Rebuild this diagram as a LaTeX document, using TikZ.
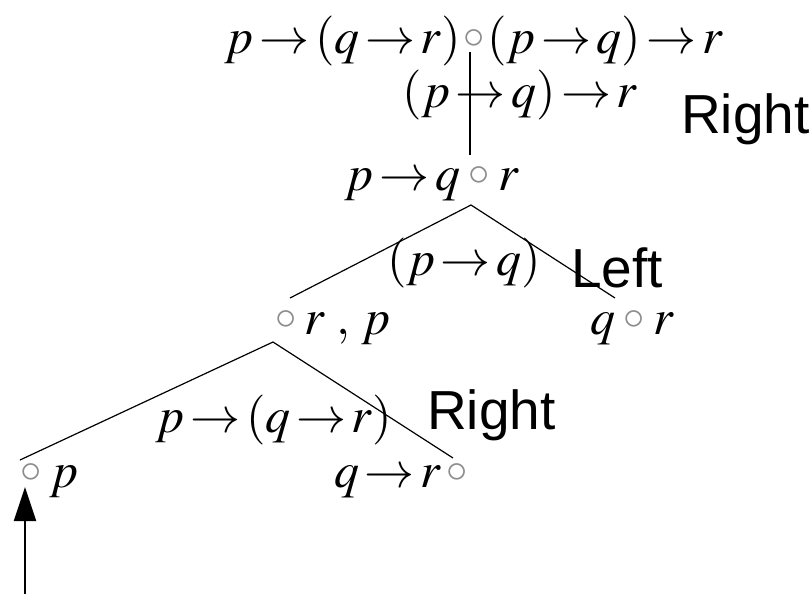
\documentclass[tikz,border=0pt]{standalone}
\usepackage{mathptmx}
\usepackage{fix-cm}
\usepackage{graphicx}
\usepackage[no-math]{fontspec}
\newfontfamily\labfont{Liberation Sans}
\usetikzlibrary{arrows.meta}
\newcommand{\myto}{\mathord{\mkern2mu\rightarrow\mkern2mu}}
\newcommand{\gc}{\mathord{\raisebox{4.5pt}{\textcolor{black!45}{\scalebox{1.15}{$\scriptstyle\circ$}}}}}
\newcommand{\fm}[1]{$#1$}
\tikzset{
  fmla/.style={anchor=base west, inner sep=0pt, font=\fontsize{50}{58}\selectfont},
  lab/.style={anchor=base west, inner sep=0pt, font=\labfont\fontsize{55}{60}\selectfont},
  edge/.style={draw, line width=1.2pt},
}
\begin{document}
\begin{tikzpicture}[x=1pt,y=-1pt]
\useasboundingbox (0,0) rectangle (811,594);
% formulas
\node[fmla] (n1) at (225,53) {\fm{p\myto(q\myto r)\mkern1mu\gc\mkern1mu(p\myto q)\myto r}};
\node[fmla] (l1) at (402,107) {\fm{(p\myto q)\myto r}};
\node[lab] (r1) at (681,133) {Right};
\node[fmla] (n2) at (345,190) {\fm{p\myto q\mkern3mu\gc\mkern3mu r}};
\node[fmla] (l2) at (387,275) {\fm{(p\myto q)}};
\node[lab] (r2) at (571,287) {Left};
\node[fmla] (n3) at (275,334) {\fm{\gc\mkern3mu r\mkern4mu,\mkern2mu p}};
\node[fmla] (n4) at (590,334) {\fm{q\mkern3mu\gc\mkern3mu r}};
\node[fmla] (l3) at (156,432) {\fm{p\myto(q\myto r)}};
\node[lab] (r3) at (427,429) {Right};
\node[fmla] (n5) at (20,487) {\fm{\gc\mkern3mu p}};
\node[fmla] (n6) at (334,487) {\fm{q\myto r\mkern2mu\gc}};
% connector end points
\coordinate (v1) at (470,52);
\coordinate (v2) at (470,155);
\coordinate (a1) at (471,205);
\coordinate (b1) at (290,298);
\coordinate (c1) at (615,298);
\coordinate (a2) at (273,342);
\coordinate (b2) at (20,460);
\coordinate (c2) at (453,458);
\coordinate (s) at (25,594);
\coordinate (t) at (25,487);
\draw[line width=1.6pt] (v1) -- (v2);
\draw[edge] (b1) -- (a1) -- (c1);
\draw[edge] (b2) -- (a2) -- (c2);
\draw[line width=2pt, -{Triangle[width=22pt,length=34pt]}] (s) -- (t);
\end{tikzpicture}
\end{document}
